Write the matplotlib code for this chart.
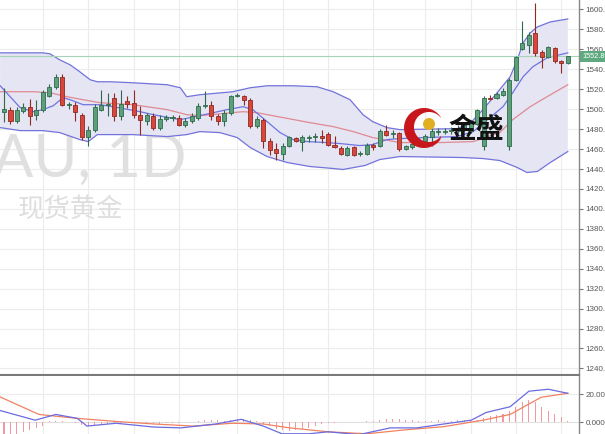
import numpy as np
import matplotlib
matplotlib.use('Agg')
import matplotlib.pyplot as plt
from matplotlib.patches import Polygon, Circle
import matplotlib.transforms as mtransforms

plt.rcParams['font.family'] = ['DejaVu Sans', 'Noto Sans CJK SC']

# ---------------- data ----------------
opens = [1497.5, 1499, 1488, 1498.5, 1502, 1494, 1499.5, 1513.5, 1522, 1532,
         1504.5, 1504, 1494.5, 1472, 1479.5, 1499.5, 1504.5, 1511, 1493, 1508,
         1506, 1494, 1488, 1493.5, 1481, 1490, 1491, 1491, 1484.5, 1488,
         1491, 1503.5, 1504.5, 1493, 1488, 1496, 1513.5, 1513.5, 1509.5, 1483.5,
         1489.5, 1468, 1460, 1455.5, 1463.5, 1471, 1467, 1471.5, 1472, 1473.5,
         1475.5, 1464.5, 1461, 1454.5, 1462, 1455, 1455.5, 1464.5, 1463, 1478,
         1475.5, 1476, 1460, 1462, 1464.5, 1468, 1472.5, 1477.5, 1477.5, 1478,
         1478.5, 1480, 1478, 1485.5, 1463, 1511, 1511, 1514.5, 1463, 1529.5,
         1560, 1564.5, 1576, 1557, 1552, 1561, 1548.5, 1546]
highs = [1521, 1502.5, 1502, 1506, 1510, 1509, 1519, 1525, 1535, 1535,
         1507, 1507, 1496.5, 1483, 1505, 1519, 1516, 1516, 1519.5, 1513,
         1519.5, 1503, 1496.5, 1496.5, 1494.5, 1494.5, 1494.5, 1494.5, 1491, 1496,
         1506, 1518, 1508, 1495, 1499.5, 1514.5, 1516, 1514.5, 1511, 1493,
         1491, 1471.5, 1466.5, 1466.5, 1473.5, 1472, 1474.5, 1474.5, 1476, 1479,
         1477, 1473, 1463, 1463, 1463.5, 1458.5, 1466, 1466.5, 1480.5, 1484.5,
         1479.5, 1477.5, 1464, 1466.5, 1471, 1475, 1481, 1481, 1481, 1482,
         1484, 1486, 1488, 1500.5, 1513, 1514.5, 1517, 1521, 1531, 1553.5,
         1588, 1577, 1606, 1559.5, 1563, 1562, 1549.5, 1553.5]
lows = [1487.5, 1485.5, 1486, 1496, 1484, 1489, 1497, 1512, 1520, 1503,
        1500, 1488, 1469.5, 1463, 1477, 1498, 1493, 1488, 1489.5, 1501.5,
        1491, 1474.5, 1484.5, 1479.5, 1479.5, 1488, 1488, 1483, 1482, 1486,
        1489.5, 1501, 1489.5, 1484.5, 1483, 1494, 1512, 1504, 1481, 1481,
        1461.5, 1454.5, 1449.5, 1449.5, 1462.5, 1467, 1458, 1467, 1467, 1466.5,
        1463.5, 1461, 1454.5, 1453.5, 1453.5, 1453.5, 1454.5, 1459.5, 1462, 1473.5,
        1471.5, 1458, 1459, 1460.5, 1463, 1466, 1463, 1474, 1475, 1475,
        1476, 1478, 1476, 1484.5, 1459.5, 1509.5, 1510, 1513.5, 1459.5, 1528,
        1559.5, 1556, 1553, 1541, 1551, 1546.5, 1536, 1545.5]
closes = [1500.5, 1488, 1499, 1502.5, 1493.5, 1499.5, 1517, 1522, 1532, 1504.5,
          1505.2, 1497, 1472, 1479.5, 1502.5, 1504.5, 1505, 1493, 1505.5, 1505.5,
          1494.5, 1489, 1494, 1481, 1490, 1492, 1491.8, 1484.5, 1488, 1493,
          1503.5, 1504.5, 1493, 1488, 1496, 1513, 1514.5, 1509.5, 1483, 1490,
          1468, 1459, 1456, 1463.5, 1472, 1468, 1472.5, 1472, 1472.3, 1471,
          1464.5, 1462, 1455.5, 1461, 1454.5, 1455.5, 1464, 1462, 1478, 1474.5,
          1476, 1460, 1463, 1465, 1468, 1473, 1478, 1478, 1478, 1478.5,
          1481.5, 1484.5, 1486, 1499.5, 1511, 1510, 1515, 1518, 1529.5, 1552,
          1566, 1574.5, 1556, 1552, 1562, 1548, 1546, 1552.89]
last_price = 1552.89

# Bollinger upper / middle / lower and short MA, sampled at candle positions
ub_x = [-0.6, 2.5, 6.0, 7.1, 8.6, 10.2, 11.7, 13.3, 14.4, 16.4, 19.9, 25.2, 27.2,
        28.2, 30.2, 35.3, 38.0, 40.6, 44.6, 48.3, 50.8, 53.4, 55.4, 56.9, 59.1,
        61.1, 69.9, 71.9, 73.9, 76.1, 78.1, 79.2, 80.1, 81.2, 82.3, 84.3, 87.0]
ub = [1556.5, 1556.5, 1556.5, 1555.5, 1549.5, 1544.5, 1537.5, 1529.5, 1527.5,
      1527.5, 1526.5, 1524.5, 1521.5, 1512.5, 1514.5, 1517.5, 1521.5, 1523.5,
      1523.5, 1522.5, 1517.5, 1509.5, 1494.5, 1487.5, 1481.5, 1479.5, 1480.5,
      1485.5, 1499.5, 1516.5, 1532.5, 1549.5, 1566.5, 1576.5, 1582.5, 1587.5, 1590.5]
mid_x = [-0.6, 4.5, 7.1, 9.7, 12.2, 14.8, 19.9, 25.2, 28.2, 30.2, 36.9, 39.0, 43.1,
         47.2, 50.8, 53.9, 56.9, 61.1, 67.3, 72.4, 76.5, 78.5, 81.2, 83.8, 87.0]
mid = [1517.5, 1517.5, 1516.5, 1512.5, 1509.5, 1506.5, 1504.5, 1499.5, 1494.5,
       1493.5, 1497.5, 1496.5, 1491.5, 1486.5, 1482.5, 1477.5, 1471.5, 1466.5,
       1466.5, 1467.5, 1476.5, 1489.5, 1502.5, 1512.5, 1524.5]
lb_x = [-0.6, 2.5, 6.0, 8.6, 11.7, 13.0, 14.4, 19.9, 25.2, 28.2, 30.2, 33.3, 36.0,
        38.0, 40.6, 43.7, 47.2, 50.8, 52.3, 55.7, 58.0, 61.1, 70.8, 73.9, 76.5,
        79.2, 80.7, 82.3, 84.3, 87.0]
lb = [1481.5, 1478.5, 1478.5, 1476.5, 1469.5, 1467.5, 1474.5, 1474.5, 1472.5,
      1474.5, 1477.5, 1476.5, 1471.5, 1461.5, 1452.5, 1446.5, 1442.5, 1440.5,
      1439.5, 1443.5, 1449.5, 1452.5, 1451.5, 1450.5, 1448.5, 1441.5, 1436.5,
      1437.5, 1446.5, 1457.5]
ma_x = [-0.6, 2.5, 4.5, 6.0, 7.6, 9.1, 10.2, 12.2, 14.8, 16.8, 21.0, 23.0, 27.2,
        30.2, 34.4, 36.9, 38.4, 40.6, 42.6, 44.6, 46.8, 49.8, 51.9, 54.9, 56.9,
        59.1, 61.1, 64.7, 69.9, 72.4, 75.0, 77.0, 78.5, 80.1, 81.6, 83.8, 87.0]
ma = [1523.5, 1501.5, 1497.5, 1499.5, 1503.5, 1511.5, 1509.5, 1504.5, 1504.5,
      1502.5, 1497.5, 1494.5, 1489.5, 1493.5, 1499.5, 1502.5, 1499.5, 1487.5,
      1476.5, 1469.5, 1467.5, 1466.5, 1465.5, 1463.5, 1464.5, 1469.5, 1470.5,
      1471.5, 1472.5, 1477.5, 1491.5, 1502.5, 1516.5, 1532.5, 1542.5, 1551.5, 1556.5]

# MACD pane
dif_x = [-0.6, 4.8, 8.0, 11.3, 12.8, 17.3, 23.1, 27.3, 32.7, 36.6, 40.0, 42.9,
         47.1, 50.0, 54.8, 59.6, 63.7, 67.9, 72.1, 74.4, 78.1, 81.0, 84.0, 87.0]
dif = [8.2, 1.3, 5.4, 2.6, -2.9, -0.9, -3.6, -4.2, -1.4, 1.9, -2.9, -8.4,
       -8.4, -7.0, -9.0, -4.2, -4.2, -1.4, 1.3, 6.8, 10.9, 22.0, 23.4, 20.5]
dea_x = [-0.6, 5.4, 11.3, 17.3, 23.1, 29.2, 35.2, 40.0, 44.1, 50.0, 56.0, 61.9,
         67.9, 73.9, 78.1, 82.9, 87.0]
dea = [17.9, 5.4, 2.6, 0.4, -1.4, -2.9, -0.9, -1.4, -4.2, -7.0, -8.4, -5.6,
       -3.3, 1.3, 5.4, 17.7, 20.5]
hist = [-13, -12, -9, -7, -6, -4.5, -3,
        0.5, 1, 0.8, 0.3,
        -0.5, -2, -2.5, -2, -1.8, -1.5, -1.2, -0.8,
        -0.3, 0.2, -0.3,
        -1, -1, -1.2, -1, -0.8, -0.6,
        -0.3, 0.3,
        1, 1.5, 1.5, 1.2, 1,
        1.5, 2, 2, 1.5, 0.5,
        -1.5, -3, -5, -6, -6.5, -6, -5, -4,
        -2.5, -1.5, -1, -0.5, -0.3, -0.2, 0.2, 0.3, 0.5, 0.8,
        1.5, 2, 2, 1.8, 1.5, 1.2, 1,
        1, 1, 1.2, 1, 1, 1.2, 1.5, 1.5,
        1.5, 3, 4, 5, 6, 8, 11, 14, 16, 14, 11, 8, 6, 3.5, 1]

price_ticks = list(range(1240, 1601, 20))
macd_ticks = [0, 20]
macd_tick_labels = ['0.0000', '20.000']
vgrid = [6, 13, 20, 27, 36, 43, 50, 57, 65, 72, 79, 86]

# ---------------- figure ----------------
W, H = 605, 434
fig = plt.figure(figsize=(W / 100, H / 100), dpi=100)
fig.patch.set_facecolor('white')
ax = fig.add_axes([0, 1 - 375 / H, 579 / W, 375 / H])
axm = fig.add_axes([0, 0, 579 / W, 58 / H])

xlim = (-0.62, 88.73)
grid_c = '#ececec'
tick_c = '#555555'
tick_font = ['Liberation Sans', 'DejaVu Sans']

# ---- price pane ----
ax.set_xlim(*xlim)
ax.set_ylim(1233.4, 1609.5)
for v in vgrid:
    ax.axvline(v, color=grid_c, lw=0.8, zorder=0)
for t in price_ticks:
    ax.axhline(t, color=grid_c, lw=0.8, zorder=0)

# watermark
ax.text(-0.012, 0.573, 'AU, 1D', transform=ax.transAxes, fontsize=43,
        color='#e0e0e0', ha='left', va='center', zorder=0.5,
        family=['Lato', 'DejaVu Sans'])
ax.text(18 / 579, 1 - 209.5 / 375, '现货黄金', transform=ax.transAxes,
        fontsize=19, color='#dedede', ha='left', va='center',
        family=['Noto Sans CJK SC', 'DejaVu Sans'], zorder=0.5)

# bands
ax.fill(np.concatenate([ub_x, lb_x[::-1]]), np.concatenate([ub, lb[::-1]]),
        color='#e5e5f3', zorder=1, lw=0)
ax.plot(ub_x, ub, color='#7373dc', lw=0.9, zorder=2)
ax.plot(lb_x, lb, color='#7373dc', lw=0.9, zorder=2)
ax.plot(mid_x, mid, color='#e08a93', lw=0.9, zorder=2)
ax.plot(ma_x, ma, color='#6e74e0', lw=0.9, zorder=2)

ax.axhline(last_price, color='#a5d3b9', lw=0.8, zorder=2)

# candles
idx = np.arange(len(closes))
o = np.array(opens); c = np.array(closes)
h = np.array(highs); l = np.array(lows)
up = c >= o
face = np.where(up, '#5c9f7b', '#d9473c')
edge = np.where(up, '#2f6b4b', '#8e2a22')
ax.vlines(idx, l, h, colors=edge, lw=0.8, zorder=3)
bottom = np.minimum(o, c)
height = np.maximum(np.abs(c - o), 1.0)
ax.bar(idx, height, bottom=bottom, width=0.62, color=face, edgecolor=edge,
       linewidth=0.6, zorder=4)

ax.yaxis.tick_right()
ax.set_yticks(price_ticks)
ax.set_yticklabels([f'{t:.1f}' for t in price_ticks], family=tick_font)
ax.tick_params(axis='y', direction='out', length=3, pad=1.5, labelsize=5.8,
               colors='#777777', labelcolor=tick_c)
ax.set_xticks([])
for s in ['left', 'top']:
    ax.spines[s].set_visible(False)
ax.spines['right'].set_color('#888888')
ax.spines['right'].set_linewidth(1)
ax.spines['bottom'].set_color('#7a7a7a')
ax.spines['bottom'].set_linewidth(1.5)

trans = mtransforms.blended_transform_factory(ax.transAxes, ax.transData)
ax.text(1.0 + 3 / 579, last_price, f'{last_price:.2f}', transform=trans,
        fontsize=5.3, color='white', ha='left', va='center', zorder=10,
        family=tick_font,
        bbox=dict(boxstyle='square,pad=0.3', fc='#5ea97f', ec='none'),
        clip_on=False)

# ---- MACD pane ----
axm.set_xlim(*xlim)
axm.set_ylim(-8.57, 32.86)
for v in vgrid:
    axm.axvline(v, color=grid_c, lw=0.8, zorder=0)
axm.axhline(20, color=grid_c, lw=0.8, zorder=0)
axm.axhline(0, color='#e0e0e0', lw=0.8, zorder=0)
axm.bar(idx, hist, width=0.16, color='#ef9aa3', zorder=2)
axm.plot(dea_x, dea, color='#f08262', lw=0.9, zorder=3)
axm.plot(dif_x, dif, color='#6b6be0', lw=0.9, zorder=3)
axm.yaxis.tick_right()
axm.set_yticks(macd_ticks)
axm.set_yticklabels(macd_tick_labels, family=tick_font)
axm.tick_params(axis='y', direction='out', length=3, pad=1.5, labelsize=5.8,
                colors='#777777', labelcolor=tick_c)
axm.set_xticks([])
for s in ['left', 'top', 'bottom']:
    axm.spines[s].set_visible(False)
axm.spines['right'].set_color('#888888')
axm.spines['right'].set_linewidth(1)

# ---- logo overlay ----
ov = fig.add_axes([0, 0, 1, 1], facecolor='none')
ov.set_xlim(0, W)
ov.set_ylim(H, 0)
ov.axis('off')
cx, cy, r = 424, 128, 20
th = np.linspace(np.radians(35), np.radians(325), 80)
outer = np.column_stack([cx + r * np.cos(th), cy - r * np.sin(th)])
r2 = 15
th2 = np.linspace(np.radians(325), np.radians(35), 80)
inner = np.column_stack([cx + 5 + r2 * np.cos(th2), cy - 1 - r2 * np.sin(th2)])
ov.add_patch(Polygon(np.vstack([outer, inner]), closed=True, fc='#c8161d',
                     ec='none', zorder=5))
ov.add_patch(Circle((429, 124), 6, fc='#e0b020', ec='none', zorder=6))
ov.text(476, 130, '金盛', fontsize=20, fontweight='bold', color='#111111',
        ha='center', va='center', family=['Noto Sans CJK SC', 'DejaVu Sans'],
        zorder=6)

fig.savefig('out.png', dpi=100, facecolor='white')
